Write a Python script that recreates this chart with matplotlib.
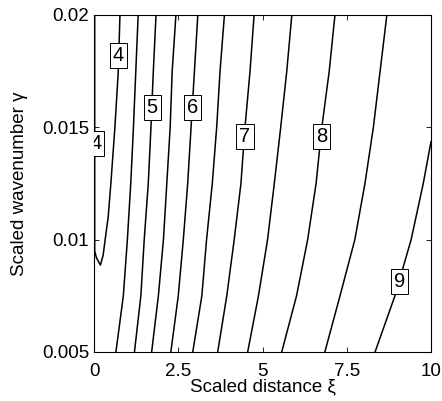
import matplotlib
matplotlib.use('Agg')
import matplotlib.pyplot as plt

# rows of scaled wavenumber where the contour positions were read
gamma_rows = [0.02, 0.0175, 0.015, 0.0125, 0.01, 0.0075, 0.005]

# xi position of each contour level along gamma_rows
xi_45 = [1.31, 1.24, 1.17, 1.09, 0.99, 0.87, 0.65]
xi_5 = [1.84, 1.76, 1.69, 1.61, 1.49, 1.39, 1.20]
xi_55 = [2.43, 2.32, 2.26, 2.16, 2.06, 1.91, 1.71]
xi_6 = [3.08, 2.98, 2.88, 2.78, 2.65, 2.50, 2.28]
xi_65 = [3.87, 3.74, 3.64, 3.51, 3.34, 3.20, 2.93]
xi_7 = [4.75, 4.63, 4.48, 4.36, 4.16, 3.94, 3.67]
xi_75 = [5.87, 5.72, 5.54, 5.35, 5.15, 4.88, 4.56]
xi_8 = [7.15, 6.98, 6.76, 6.59, 6.34, 6.01, 5.57]
xi_85 = [8.69, 8.49, 8.29, 8.04, 7.74, 7.30, 6.85]

# level 9 leaves through the right edge
gamma_9 = [0.01436, 0.0125, 0.01, 0.0075, 0.005]
xi_9 = [10.0, 9.77, 9.41, 8.93, 8.34]

# level 4 is the loop hugging xi = 0
xi_4 = [0.02, 0.02, 0.07, 0.19, 0.27, 0.33, 0.42, 0.50, 0.62, 0.72, 0.77]
gamma_4 = [0.02, 0.0095, 0.0092, 0.00887, 0.0093, 0.0100, 0.0110,
           0.0125, 0.015, 0.0175, 0.02]

label_text = ['4', '4', '5', '6', '7', '8', '9']
label_xi = [0.05, 0.73, 1.73, 2.93, 4.48, 6.76, 9.07]
label_gamma = [0.0143, 0.01821, 0.01587, 0.01587, 0.0146, 0.0146, 0.00813]

plt.rcParams['font.family'] = ['Liberation Sans', 'DejaVu Sans']

fig = plt.figure(figsize=(4.42, 4.01), dpi=100)
ax = fig.add_axes([0.2127, 0.1222, 0.7624, 0.8404])

lines = [(xi_4, gamma_4), (xi_9, gamma_9)]
for xs in [xi_45, xi_5, xi_55, xi_6, xi_65, xi_7, xi_75, xi_8, xi_85]:
    lines.append((xs, gamma_rows))

for xs, gs in lines:
    ax.plot(xs, gs, color='black', lw=1.1)

for s, x, y in zip(label_text, label_xi, label_gamma):
    ax.text(x, y, s, ha='center', va='center', fontsize=14.5, zorder=5,
            clip_on=True,
            bbox=dict(boxstyle='square,pad=0.15', fc='white', ec='black', lw=0.7))

ax.set_xlim(0, 10)
ax.set_ylim(0.005, 0.02)
ax.set_xticks([0, 2.5, 5, 7.5, 10])
ax.set_xticklabels(['0', '2.5', '5', '7.5', '10'])
ax.set_yticks([0.005, 0.01, 0.015, 0.02])
ax.set_yticklabels(['0.005', '0.01', '0.015', '0.02'])
ax.tick_params(direction='in', top=True, right=True, length=3.5, width=0.6,
               labelsize=13.5)
ax.tick_params(axis='x', pad=8)
ax.tick_params(axis='y', pad=3.5)
for sp in ax.spines.values():
    sp.set_linewidth(0.8)

ax.set_xlabel('Scaled distance ξ', fontsize=13.5, labelpad=-1)
ax.set_ylabel('Scaled wavenumber γ', fontsize=13.5, labelpad=10)

fig.savefig('out.png', dpi=100)
